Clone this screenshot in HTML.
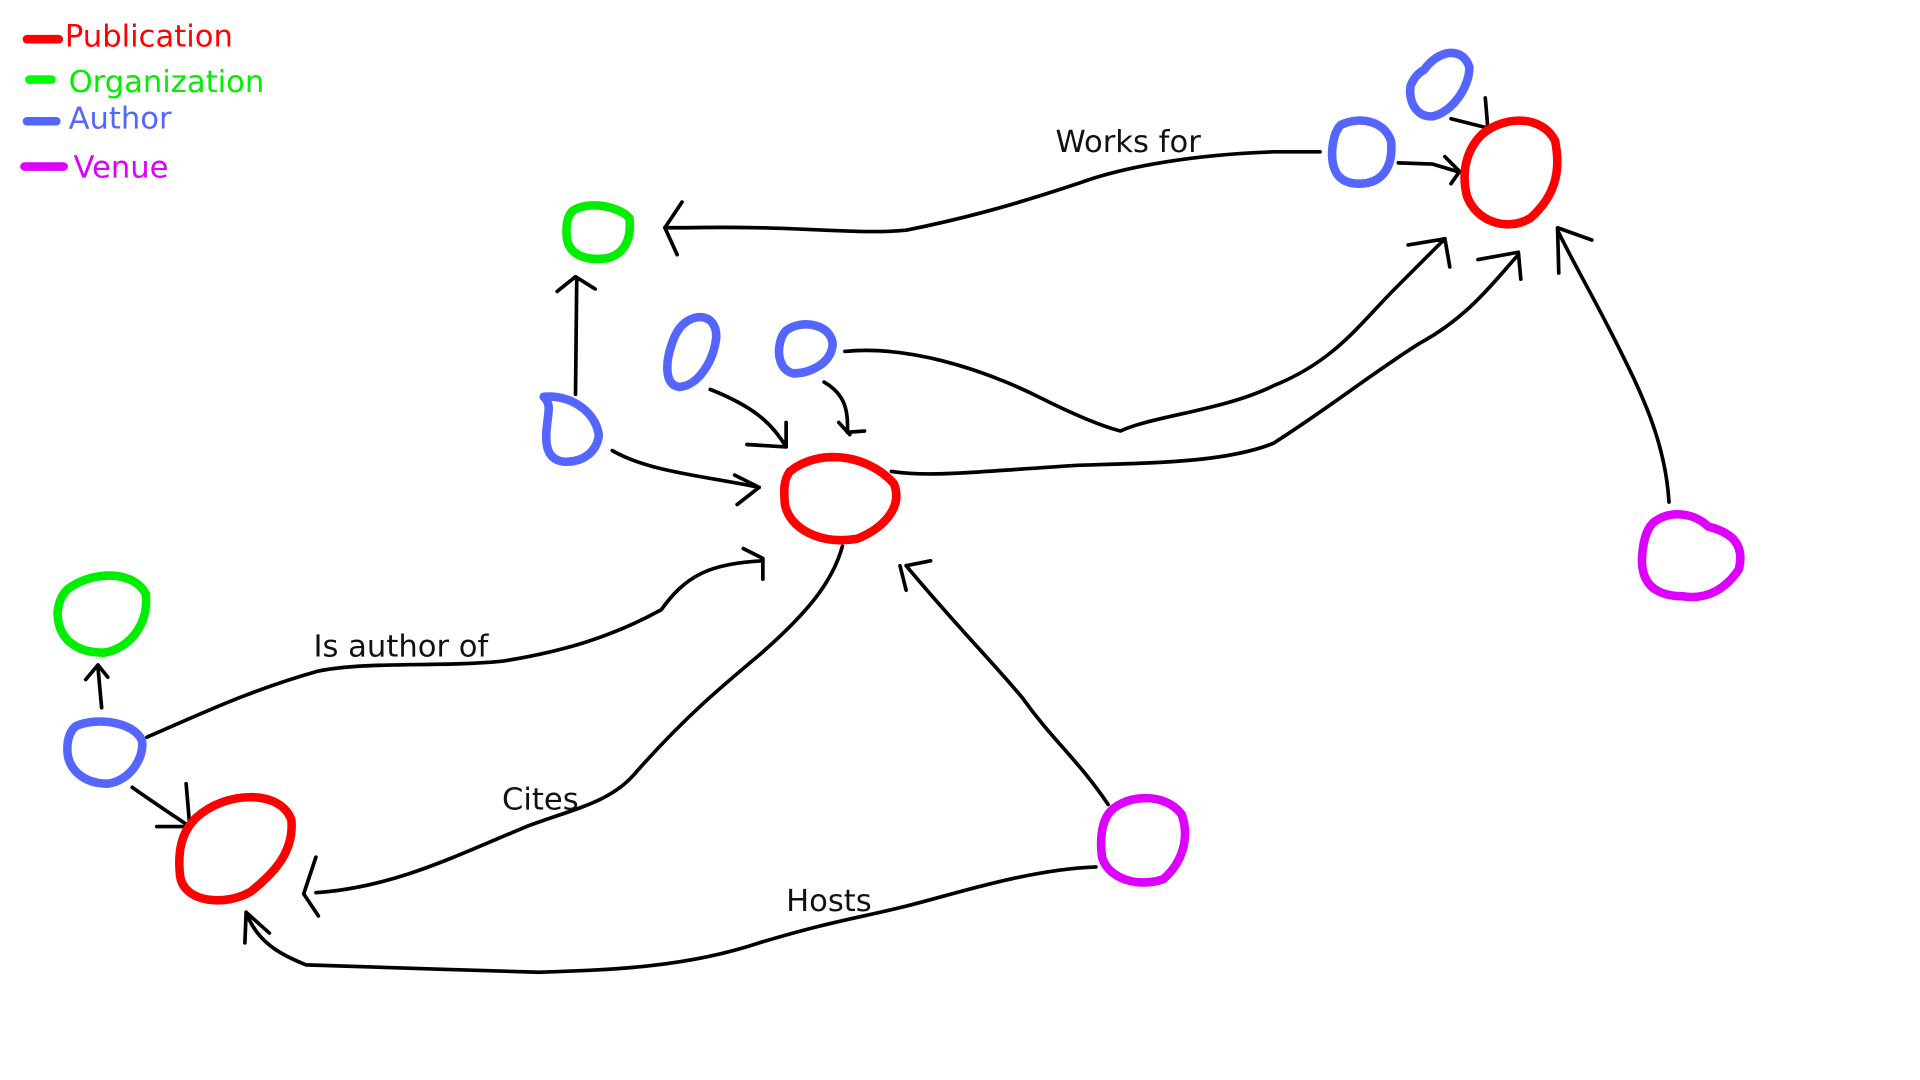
<!DOCTYPE html>
<html><head><meta charset="utf-8"><style>
html,body{margin:0;padding:0;background:#fff;}
svg{display:block;}
text{font-family:"DejaVu Sans","Liberation Sans",sans-serif;font-size:25px;}
</style></head><body>
<svg width="1920" height="1080" viewBox="0 0 1568 882" preserveAspectRatio="none" xmlns="http://www.w3.org/2000/svg">
<rect width="1568" height="882" fill="#fff"/>
<g stroke-linecap="round" stroke-width="7" fill="none">
<line x1="22" y1="32" x2="48" y2="32" stroke="#ff0000"/>
<line x1="24" y1="65" x2="42" y2="65" stroke="#00ff00"/>
<line x1="22" y1="99" x2="46" y2="99" stroke="#5566ff"/>
<line x1="20" y1="136" x2="52" y2="136" stroke="#dd00ff"/>
</g>
<text x="53" y="38" fill="#ff0000">Publication</text>
<text x="56" y="75" fill="#00ee00">Organization</text>
<text x="56" y="105" fill="#5566ff">Author</text>
<text x="60" y="145" fill="#dd00ff">Venue</text>

<g stroke="#000" stroke-width="3" fill="none" stroke-linecap="round" stroke-linejoin="round">
<path d="M1078 124 L1040 124 C980 126 920 135 880 150 C820 170 780 180 740 188 C700 192 650 184 560 186 L543 186"/>
<path d="M557 165 L543 186 L553 208"/>
<path d="M1142 133 L1170 134 L1190 140 M1180 128 L1192 140 L1185 150"/>
<path d="M1185 97 L1213 104 M1213 80 L1215 104"/>
<path d="M470 322 L471 228 M455 238 L470 226 L486 236"/>
<path d="M500 368 C530 385 570 388 620 398 M600 388 L620 398 L602 412"/>
<path d="M580 318 C615 332 630 345 642 365 L610 363 M642 345 L642 365"/>
<path d="M673 312 C690 322 693 335 692 353 L706 352 M685 345 L694 355"/>
<path d="M690 287 C740 282 800 300 850 325 C880 340 900 348 915 352 C940 340 1000 335 1040 315 C1090 295 1110 265 1140 235 C1160 215 1175 200 1180 195 M1150 200 L1180 195 L1184 218"/>
<path d="M728 385 C760 390 800 385 880 380 C940 378 1000 378 1040 362 C1090 330 1120 305 1160 280 C1200 258 1220 230 1240 208 M1207 212 L1240 206 L1242 228"/>
<path d="M1363 410 C1360 360 1340 320 1320 280 C1300 240 1285 215 1272 188 M1300 196 L1272 186 L1273 223"/>
<path d="M120 602 C160 585 200 565 260 548 C300 540 360 545 410 540 C460 532 500 520 540 498 C560 470 580 460 623 458 M607 448 L623 456 L623 473"/>
<path d="M688 446 C680 475 660 500 620 535 C590 560 560 585 520 630 C500 655 470 660 430 675 C370 700 320 725 258 729 M258 700 L248 730 L260 748"/>
<path d="M905 657 C880 620 860 605 835 570 C810 540 780 510 740 462 L760 458 M735 462 L740 482"/>
<path d="M895 708 C840 710 780 730 740 740 C700 750 680 752 620 770 C560 790 500 792 440 794 C380 792 300 790 250 788 C230 780 210 770 201 745 M201 745 L220 762 M201 745 L200 770"/>
<path d="M83 578 L80 545 M70 555 L80 543 L88 553"/>
<path d="M108 643 C125 655 140 665 155 675 L128 675 M152 640 L155 675"/>
</g>
<text x="862" y="124" fill="#111">Works for</text>
<text x="256" y="536" fill="#111">Is author of</text>
<text x="410" y="661" fill="#111">Cites</text>
<text x="642" y="744" fill="#111">Hosts</text>

<g fill="none" stroke-width="7" stroke-linejoin="round">
<path d="M1210 110 C1230 93 1260 95 1270 115 C1275 140 1270 160 1250 178 C1230 190 1205 180 1198 160 C1193 140 1198 122 1210 110Z" stroke="#ff0000"/>
<path d="M645 385 C670 365 710 372 730 395 C738 415 720 432 700 440 C670 445 645 432 641 412 C640 400 640 392 645 385Z" stroke="#ff0000"/>
<path d="M160 668 C185 645 230 645 238 670 C240 695 225 712 205 728 C185 740 150 738 147 715 C145 695 148 680 160 668Z" stroke="#ff0000"/>
<path d="M468 172 C480 164 505 168 514 178 C516 195 510 208 495 211 C478 213 465 208 463 195 C462 185 463 176 468 172Z" stroke="#00ee00"/>
<path d="M60 478 C80 466 110 467 119 485 C122 510 105 530 85 533 C60 533 47 520 47 500 C48 490 52 482 60 478Z" stroke="#00ee00"/>
<path d="M1163 57 C1175 40 1195 38 1200 55 C1200 72 1185 92 1170 95 C1155 96 1150 80 1152 70 C1155 63 1158 60 1163 57Z" stroke="#5566ff"/>
<path d="M1095 102 C1110 95 1130 98 1136 115 C1138 135 1130 150 1110 150 C1092 150 1087 138 1088 122 C1089 112 1091 106 1095 102Z" stroke="#5566ff"/>
<path d="M555 268 C565 255 585 255 585 275 C583 295 570 315 555 316 C542 315 544 295 548 283 C550 276 552 272 555 268Z" stroke="#5566ff"/>
<path d="M642 270 C655 260 680 265 680 282 C678 298 660 305 648 305 C636 302 635 288 637 280 C638 275 640 272 642 270Z" stroke="#5566ff"/>
<path d="M444 324 C470 322 488 340 489 356 C487 370 475 378 460 377 C445 375 445 360 447 345 C448 335 450 330 444 324Z" stroke="#5566ff"/>
<path d="M62 593 C80 585 110 590 116 605 C118 620 105 638 88 640 C68 640 55 628 55 612 C55 603 57 597 62 593Z" stroke="#5566ff"/>
<path d="M1350 427 C1365 415 1385 420 1395 430 C1415 435 1425 445 1420 465 C1410 480 1395 490 1375 487 C1350 487 1340 475 1341 455 C1342 440 1345 432 1350 427Z" stroke="#dd00ff"/>
<path d="M905 665 C915 650 950 645 965 665 C972 685 965 705 950 718 C930 725 905 718 900 700 C898 685 900 672 905 665Z" stroke="#dd00ff"/>
</g>
</svg>
</body></html>
